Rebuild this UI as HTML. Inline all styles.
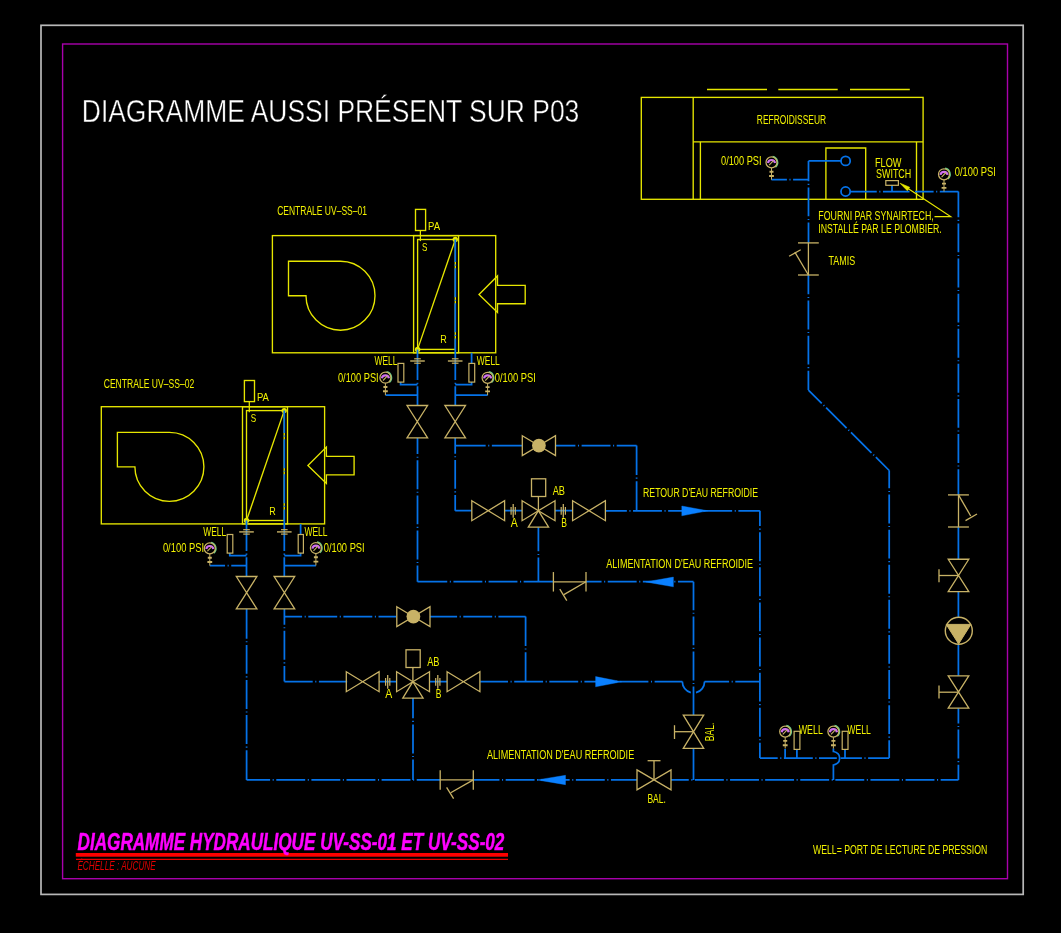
<!DOCTYPE html>
<html><head><meta charset="utf-8"><style>
html,body{margin:0;padding:0;background:#000;width:1061px;height:933px;overflow:hidden}
svg{display:block;will-change:transform}
text{font-family:"Liberation Sans",sans-serif}
</style></head><body>
<svg width="1061" height="933" viewBox="0 0 1061 933">
<rect width="1061" height="933" fill="#000"/>
<rect x="41" y="25.3" width="982.2" height="869.1" stroke="#b8b8b8" stroke-width="1.7" fill="none"/>
<rect x="62.6" y="44" width="944.9" height="834.7" stroke="#a800ac" stroke-width="1.4" fill="none"/>
<rect x="641.3" y="97.4" width="281.8" height="101.9" stroke="#e6e600" stroke-width="1.35" fill="none"/>
<line x1="693.2" y1="97.4" x2="693.2" y2="199.3" stroke="#e6e600" stroke-width="1.35" />
<line x1="693.2" y1="141.8" x2="923.1" y2="141.8" stroke="#e6e600" stroke-width="1.35" />
<line x1="700.4" y1="141.8" x2="700.4" y2="199.3" stroke="#e6e600" stroke-width="1.35" />
<line x1="916.5" y1="141.8" x2="916.5" y2="199.3" stroke="#e6e600" stroke-width="1.35" />
<polyline points="825.9,199.3 825.9,148 865.7,148 865.7,199.3" stroke="#e6e600" stroke-width="1.35" fill="none" />
<line x1="707" y1="89.5" x2="767" y2="89.5" stroke="#e6e600" stroke-width="1.35" />
<line x1="778.3" y1="89.5" x2="837.7" y2="89.5" stroke="#e6e600" stroke-width="1.35" />
<line x1="850" y1="89.5" x2="909.8" y2="89.5" stroke="#e6e600" stroke-width="1.35" />
<rect x="272.4" y="235.6" width="223.3" height="117.2" stroke="#e6e600" stroke-width="1.35" fill="none"/>
<rect x="413.6" y="235.6" width="45" height="117.2" stroke="#e6e600" stroke-width="1.35" fill="none"/>
<rect x="417.6" y="239.5" width="37.7" height="109.9" stroke="#e6e600" stroke-width="1.35" fill="none"/>
<line x1="417.6" y1="349.4" x2="455.3" y2="239.5" stroke="#e6e600" stroke-width="1.35" />
<circle cx="417.6" cy="349.4" r="2.7" fill="#e6e600"/>
<circle cx="455.3" cy="239.5" r="2.7" fill="#e6e600"/>
<path d="M288.5,261.2 H340.5 A34.5,34.5 0 1 1 306,295.7 H288.5 Z" stroke="#e6e600" stroke-width="1.35" fill="none" />
<polygon points="479,294.5 497.5,276 497.5,285.3 525.2,285.3 525.2,303.7 497.5,303.7 497.5,312.4" stroke="#e6e600" stroke-width="1.35" fill="none" />
<rect x="415.5" y="209.4" width="10.1" height="21.1" stroke="#e6e600" stroke-width="1.35" fill="none"/>
<line x1="420.4" y1="230.5" x2="420.4" y2="241.1" stroke="#e6e600" stroke-width="1.25" />
<rect x="101.3" y="406.7" width="223.3" height="117.2" stroke="#e6e600" stroke-width="1.35" fill="none"/>
<rect x="242.5" y="406.7" width="45" height="117.2" stroke="#e6e600" stroke-width="1.35" fill="none"/>
<rect x="246.5" y="410.6" width="37.7" height="109.9" stroke="#e6e600" stroke-width="1.35" fill="none"/>
<line x1="246.5" y1="520.5" x2="284.2" y2="410.6" stroke="#e6e600" stroke-width="1.35" />
<circle cx="246.5" cy="520.5" r="2.7" fill="#e6e600"/>
<circle cx="284.2" cy="410.6" r="2.7" fill="#e6e600"/>
<path d="M117.4,432.3 H169.4 A34.5,34.5 0 1 1 134.9,466.8 H117.4 Z" stroke="#e6e600" stroke-width="1.35" fill="none" />
<polygon points="307.9,465.6 326.4,447.1 326.4,456.4 354.1,456.4 354.1,474.8 326.4,474.8 326.4,483.5" stroke="#e6e600" stroke-width="1.35" fill="none" />
<rect x="244.4" y="380.5" width="10.1" height="21.1" stroke="#e6e600" stroke-width="1.35" fill="none"/>
<line x1="249.3" y1="401.6" x2="249.3" y2="412.2" stroke="#e6e600" stroke-width="1.25" />
<rect x="75.8" y="853" width="432.2" height="3.7" fill="#ff0000"/>
<line x1="76" y1="859.4" x2="508" y2="859.4" stroke="#e80000" stroke-width="1.1" />
<path d="M892,185.3L892,191.5M771.5,179.7L786.9,179.7M789.45,179.7L790.55,179.7M793.1,179.7L808.5,179.7M841,160.9L808.5,160.9M808.5,160.9L808.5,181.25M808.5,183.8L808.5,184.9M808.5,187.45L808.5,216.35M808.5,218.9L808.5,220M808.5,222.55L808.5,242.9M808.4,275L808.4,294.35M808.4,296.9L808.4,298M808.4,300.55L808.4,329.45M808.4,332L808.4,333.1M808.4,335.65L808.4,364.55M808.4,367.1L808.4,368.2M808.4,370.75L808.4,390.1M808.4,390.1L821.72,403.36M823.53,405.15L824.31,405.93M826.12,407.73L846.6,428.11M848.41,429.91L849.19,430.69M851,432.49L871.48,452.87M873.29,454.67L874.07,455.45M875.88,457.24L889.2,470.5M889.2,470.5L889.2,488.35M889.2,490.9L889.2,492M889.2,494.55L889.2,523.45M889.2,526L889.2,527.1M889.2,529.65L889.2,558.55M889.2,561.1L889.2,562.2M889.2,564.75L889.2,593.65M889.2,596.2L889.2,597.3M889.2,599.85L889.2,628.75M889.2,631.3L889.2,632.4M889.2,634.95L889.2,663.85M889.2,666.4L889.2,667.5M889.2,670.05L889.2,698.95M889.2,701.5L889.2,702.6M889.2,705.15L889.2,734.05M889.2,736.6L889.2,737.7M889.2,740.25L889.2,758.1M889.2,758.1L868.1,758.1M865.55,758.1L864.45,758.1M861.9,758.1L840.8,758.1M836.8,758.1L819,758.1M816.45,758.1L815.35,758.1M812.8,758.1L783.9,758.1M781.35,758.1L780.25,758.1M777.7,758.1L759.9,758.1M759.9,758.1L759.9,742.85M759.9,740.3L759.9,739.2M759.9,736.65L759.9,707.75M759.9,705.2L759.9,704.1M759.9,701.55L759.9,672.65M759.9,670.1L759.9,669M759.9,666.45L759.9,637.55M759.9,635L759.9,633.9M759.9,631.35L759.9,602.45M759.9,599.9L759.9,598.8M759.9,596.25L759.9,567.35M759.9,564.8L759.9,563.7M759.9,561.15L759.9,532.25M759.9,529.7L759.9,528.6M759.9,526.05L759.9,510.8M759.9,510.8L738.35,510.8M735.8,510.8L734.7,510.8M732.15,510.8L703.25,510.8M700.7,510.8L699.6,510.8M697.05,510.8L668.15,510.8M665.6,510.8L664.5,510.8M661.95,510.8L633.05,510.8M630.5,510.8L629.4,510.8M626.85,510.8L605.3,510.8M850.2,191.5L876.75,191.5M879.3,191.5L880.4,191.5M882.95,191.5L909.5,191.5M915,191.5L933.6,191.5M936.15,191.5L937.25,191.5M939.8,191.5L958.4,191.5M958.4,191.5L958.4,217.25M958.4,219.8L958.4,220.9M958.4,223.45L958.4,252.35M958.4,254.9L958.4,256M958.4,258.55L958.4,287.45M958.4,290L958.4,291.1M958.4,293.65L958.4,322.55M958.4,325.1L958.4,326.2M958.4,328.75L958.4,357.65M958.4,360.2L958.4,361.3M958.4,363.85L958.4,392.75M958.4,395.3L958.4,396.4M958.4,398.95L958.4,427.85M958.4,430.4L958.4,431.5M958.4,434.05L958.4,462.95M958.4,465.5L958.4,466.6M958.4,469.15L958.4,494.9M958.4,527L958.4,559.3M958.4,591.6L958.4,617.3M958.4,644.3L958.4,675.8M958.4,708.2L958.4,723.4M958.4,725.95L958.4,727.05M958.4,729.6L958.4,758.5M958.4,761.05L958.4,762.15M958.4,764.7L958.4,779.9M958.4,779.9L940.65,779.9M938.1,779.9L937,779.9M934.45,779.9L905.55,779.9M903,779.9L901.9,779.9M899.35,779.9L870.45,779.9M867.9,779.9L866.8,779.9M864.25,779.9L835.35,779.9M832.8,779.9L831.7,779.9M829.15,779.9L800.25,779.9M797.7,779.9L796.6,779.9M794.05,779.9L765.15,779.9M762.6,779.9L761.5,779.9M758.95,779.9L730.05,779.9M727.5,779.9L726.4,779.9M723.85,779.9L694.95,779.9M692.4,779.9L691.3,779.9M688.75,779.9L671,779.9M637.1,779.9L610.95,779.9M608.4,779.9L607.3,779.9M604.75,779.9L575.85,779.9M573.3,779.9L572.2,779.9M569.65,779.9L540.75,779.9M538.2,779.9L537.1,779.9M534.55,779.9L505.65,779.9M503.1,779.9L502,779.9M499.45,779.9L473.3,779.9M440.2,779.9L416.7,779.9M414.15,779.9L413.05,779.9M410.5,779.9L381.6,779.9M379.05,779.9L377.95,779.9M375.4,779.9L346.5,779.9M343.95,779.9L342.85,779.9M340.3,779.9L311.4,779.9M308.85,779.9L307.75,779.9M305.2,779.9L276.3,779.9M273.75,779.9L272.65,779.9M270.1,779.9L246.6,779.9M246.6,779.9L246.6,750.2M246.6,747.65L246.6,746.55M246.6,744L246.6,715.1M246.6,712.55L246.6,711.45M246.6,708.9L246.6,680M246.6,677.45L246.6,676.35M246.6,673.8L246.6,644.9M246.6,642.35L246.6,641.25M246.6,638.7L246.6,609M785.1,749L785.1,758.1M796.9,749.4L796.9,758.1M845,749.4L845,758.1M417.5,349.4L417.5,361M417.5,361L417.5,380.1M417.5,382.65L417.5,383.75M417.5,386.3L417.5,405.4M417.5,438L417.5,454.1M417.5,456.65L417.5,457.75M417.5,460.3L417.5,489.2M417.5,491.75L417.5,492.85M417.5,495.4L417.5,524.3M417.5,526.85L417.5,527.95M417.5,530.5L417.5,559.4M417.5,561.95L417.5,563.05M417.5,565.6L417.5,581.7M417.5,581.7L447.25,581.7M449.8,581.7L450.9,581.7M453.45,581.7L482.35,581.7M484.9,581.7L486,581.7M488.55,581.7L517.45,581.7M520,581.7L521.1,581.7M523.65,581.7L553.4,581.7M586,581.7L601.55,581.7M604.1,581.7L605.2,581.7M607.75,581.7L636.65,581.7M639.2,581.7L640.3,581.7M642.85,581.7L671.75,581.7M674.3,581.7L675.4,581.7M677.95,581.7L693.5,581.7M693.5,581.7L693.5,610.2M693.5,612.75L693.5,613.85M693.5,616.4L693.5,645.3M693.5,647.85L693.5,648.95M693.5,651.5L693.5,680.4M693.5,682.95L693.5,684.05M693.5,686.6L693.5,715.1M693.5,748.3L693.5,779.9M455.3,239.5L455.3,262.05M455.3,264.6L455.3,265.7M455.3,268.25L455.3,297.15M455.3,299.7L455.3,300.8M455.3,303.35L455.3,332.25M455.3,334.8L455.3,335.9M455.3,338.45L455.3,361M455.3,361L455.3,380.1M455.3,382.65L455.3,383.75M455.3,386.3L455.3,405.4M455.2,438L455.2,453.7M455.2,456.25L455.2,457.35M455.2,459.9L455.2,488.8M455.2,491.35L455.2,492.45M455.2,495L455.2,510.7M455.2,510.7L471.8,510.7M455.2,445.5L485.65,445.5M488.2,445.5L489.3,445.5M491.85,445.5L522.3,445.5M555.5,445.5L575.4,445.5M577.95,445.5L579.05,445.5M581.6,445.5L610.5,445.5M613.05,445.5L614.15,445.5M616.7,445.5L636.6,445.5M636.6,445.5L636.6,475.05M636.6,477.6L636.6,478.7M636.6,481.25L636.6,510.8M504.6,510.7L522.1,510.7M555,510.7L572.6,510.7M538.4,527.2L538.4,551.35M538.4,553.9L538.4,555M538.4,557.55L538.4,581.7M400.6,382.1L400.6,384.6L417.5,384.6M385.6,395.2L417.5,395.2M471.6,352.8L471.6,363.4M471.6,382.1L471.6,384.6L455.2,384.6M487.6,395.2L455.2,395.2M246.5,520.5L246.5,531.9M246.5,531.9L246.5,551.05M246.5,553.6L246.5,554.7M246.5,557.25L246.5,576.4M284.3,410.6L284.3,433.05M284.3,435.6L284.3,436.7M284.3,439.25L284.3,468.15M284.3,470.7L284.3,471.8M284.3,474.35L284.3,503.25M284.3,505.8L284.3,506.9M284.3,509.45L284.3,531.9M284.3,531.9L284.3,551.05M284.3,553.6L284.3,554.7M284.3,557.25L284.3,576.4M284.4,609L284.4,624.65M284.4,627.2L284.4,628.3M284.4,630.85L284.4,659.75M284.4,662.3L284.4,663.4M284.4,665.95L284.4,681.6M284.4,681.6L312.7,681.6M315.25,681.6L316.35,681.6M318.9,681.6L347.2,681.6M284.4,616.5L302.1,616.5M304.65,616.5L305.75,616.5M308.3,616.5L337.2,616.5M339.75,616.5L340.85,616.5M343.4,616.5L372.3,616.5M374.85,616.5L375.95,616.5M378.5,616.5L396.2,616.5M429.9,616.5L457.1,616.5M459.65,616.5L460.75,616.5M463.3,616.5L492.2,616.5M494.75,616.5L495.85,616.5M498.4,616.5L525.6,616.5M525.6,616.5L525.6,645.95M525.6,648.5L525.6,649.6M525.6,652.15L525.6,681.6M379.1,681.7L396.6,681.7M429.5,681.7L447.1,681.7M480.2,681.6L508,681.6M510.55,681.6L511.65,681.6M514.2,681.6L543.1,681.6M545.65,681.6L546.75,681.6M549.3,681.6L578.2,681.6M580.75,681.6L581.85,681.6M584.4,681.6L613.3,681.6M615.85,681.6L616.95,681.6M619.5,681.6L648.4,681.6M650.95,681.6L652.05,681.6M654.6,681.6L682.4,681.6M704.5,681.6L729.1,681.6M731.65,681.6L732.75,681.6M735.3,681.6L759.9,681.6M413,698L413,718.3M413,720.85L413,721.95M413,724.5L413,753.4M413,755.95L413,757.05M413,759.6L413,779.9M229.8,553.1L229.8,555.7L246.5,555.7M209.8,565.6L225.05,565.6M227.6,565.6L228.7,565.6M231.25,565.6L246.5,565.6M300.6,523.9L300.6,534.5M300.6,553.1L300.6,555.6L284.3,555.6M315.9,565.5L284.3,565.5M682.4,681.6A11,11 0 0 0 690.8,692.6M696,692.6A11,11 0 0 0 704.5,681.6M833.4,748.5V751.5Q839.8,753 839.6,758.1Q839.8,763.5 833.4,765V779.9" stroke="#0572e8" stroke-width="1.75" fill="none" stroke-linecap="butt" stroke-linejoin="miter"/>
<circle cx="845.6" cy="160.9" r="4.6" stroke="#0572e8" stroke-width="1.75" fill="none"/>
<circle cx="845.6" cy="191.5" r="4.6" stroke="#0572e8" stroke-width="1.75" fill="none"/>
<polygon points="681.8,506 707.8,510.8 681.8,515.8" stroke="#0a80ff" stroke-width="0.4" fill="#0a80ff" />
<polygon points="645.7,581.9 673.4,577.1 673.4,586.8" stroke="#0a80ff" stroke-width="0.4" fill="#0a80ff" />
<polygon points="595.6,676.6 621.9,681.7 595.6,686.8" stroke="#0a80ff" stroke-width="0.4" fill="#0a80ff" />
<polygon points="537.2,779.9 565.5,775.3 565.5,784.7" stroke="#0a80ff" stroke-width="0.4" fill="#0a80ff" />
<text x="81.8" y="122.3" font-size="30.8" fill="#ffffff" font-weight="normal" font-style="normal" textLength="497.5" lengthAdjust="spacingAndGlyphs" stroke="#000" stroke-width="0.4">DIAGRAMME AUSSI PRÉSENT SUR P03</text>
<text x="756.8" y="123.5" font-size="12" fill="#f2f200" font-weight="normal" font-style="normal" textLength="69.3" lengthAdjust="spacingAndGlyphs" >REFROIDISSEUR</text>
<text x="721" y="164.5" font-size="12" fill="#f2f200" font-weight="normal" font-style="normal" textLength="40.6" lengthAdjust="spacingAndGlyphs" >0/100 PSI</text>
<text x="875" y="166.7" font-size="12" fill="#f2f200" font-weight="normal" font-style="normal" textLength="26.5" lengthAdjust="spacingAndGlyphs" >FLOW</text>
<text x="876" y="177.5" font-size="12" fill="#f2f200" font-weight="normal" font-style="normal" textLength="35.3" lengthAdjust="spacingAndGlyphs" >SWITCH</text>
<text x="954.8" y="176.4" font-size="12" fill="#f2f200" font-weight="normal" font-style="normal" textLength="41" lengthAdjust="spacingAndGlyphs" >0/100 PSI</text>
<text x="818.3" y="220.1" font-size="12" fill="#f2f200" font-weight="normal" font-style="normal" textLength="115.5" lengthAdjust="spacingAndGlyphs" >FOURNI PAR SYNAIRTECH,</text>
<text x="818.3" y="232.6" font-size="12" fill="#f2f200" font-weight="normal" font-style="normal" textLength="123.4" lengthAdjust="spacingAndGlyphs" >INSTALLÉ PAR LE PLOMBIER.</text>
<polyline points="934.5,216.6 950.6,216.6 905,186.6" stroke="#e6e600" stroke-width="1.25" fill="none" />
<polygon points="900,183.2 909.7,187.3 907.3,190.7" stroke="#e6e600" stroke-width="0.6" fill="#e6e600" />
<rect x="885.8" y="180.6" width="12.6" height="4.7" stroke="#c8b266" stroke-width="1.2" fill="none"/>
<line x1="798" y1="242.9" x2="818.8" y2="242.9" stroke="#c8b266" stroke-width="1.3" />
<line x1="798" y1="275" x2="818.8" y2="275" stroke="#c8b266" stroke-width="1.3" />
<line x1="808.4" y1="242.9" x2="808.4" y2="275" stroke="#c8b266" stroke-width="1.3" />
<line x1="808.4" y1="275" x2="794.9" y2="252.2" stroke="#c8b266" stroke-width="1.3" />
<line x1="789.1" y1="256.3" x2="800.7" y2="249.7" stroke="#c8b266" stroke-width="1.3" />
<text x="828.5" y="265.1" font-size="12" fill="#f2f200" font-weight="normal" font-style="normal" textLength="26.6" lengthAdjust="spacingAndGlyphs" >TAMIS</text>
<line x1="948" y1="494.9" x2="968.9" y2="494.9" stroke="#c8b266" stroke-width="1.3" />
<line x1="948" y1="527" x2="968.9" y2="527" stroke="#c8b266" stroke-width="1.3" />
<line x1="958.5" y1="494.9" x2="958.5" y2="527" stroke="#c8b266" stroke-width="1.3" />
<line x1="958.5" y1="494.9" x2="970.7" y2="516" stroke="#c8b266" stroke-width="1.3" />
<line x1="965.5" y1="520.6" x2="977" y2="514" stroke="#c8b266" stroke-width="1.3" />
<polygon points="948.2,559.25 968.8,559.25 948.2,591.65 968.8,591.65" stroke="#c8b266" stroke-width="1.3" fill="none" />
<line x1="958.5" y1="575.5" x2="939" y2="575.5" stroke="#c8b266" stroke-width="1.3" />
<line x1="939" y1="569.2" x2="939" y2="582.3" stroke="#c8b266" stroke-width="1.3" />
<circle cx="958.8" cy="630.8" r="13.5" stroke="#c8b266" stroke-width="1.4" fill="none"/>
<polygon points="946.2,624.4 970.9,624.4 958.6,643.9" stroke="#c8b266" stroke-width="1" fill="#c8b266" />
<polygon points="948.2,675.8 968.8,675.8 948.2,708.2 968.8,708.2" stroke="#c8b266" stroke-width="1.3" fill="none" />
<line x1="958.5" y1="692.2" x2="939" y2="692.2" stroke="#c8b266" stroke-width="1.3" />
<line x1="939" y1="685.6" x2="939" y2="698.5" stroke="#c8b266" stroke-width="1.3" />
<rect x="794.1" y="731.3" width="5.8" height="18.1" stroke="#c8b266" stroke-width="1.2" fill="none"/>
<rect x="842.2" y="731.3" width="5.8" height="18.1" stroke="#c8b266" stroke-width="1.2" fill="none"/>
<text x="798.8" y="733.5" font-size="12" fill="#f2f200" font-weight="normal" font-style="normal" textLength="24" lengthAdjust="spacingAndGlyphs" >WELL</text>
<text x="847.3" y="733.5" font-size="12" fill="#f2f200" font-weight="normal" font-style="normal" textLength="23.6" lengthAdjust="spacingAndGlyphs" >WELL</text>
<text x="813" y="853.5" font-size="12" fill="#f2f200" font-weight="normal" font-style="normal" textLength="174.3" lengthAdjust="spacingAndGlyphs" >WELL= PORT DE LECTURE DE PRESSION</text>
<text x="428" y="229.9" font-size="11.5" fill="#f2f200" font-weight="normal" font-style="normal" textLength="12" lengthAdjust="spacingAndGlyphs" >PA</text>
<text x="421.9" y="250.6" font-size="11.5" fill="#f2f200" font-weight="normal" font-style="normal" textLength="5.4" lengthAdjust="spacingAndGlyphs" >S</text>
<text x="440.3" y="343.4" font-size="11.5" fill="#f2f200" font-weight="normal" font-style="normal" textLength="6.5" lengthAdjust="spacingAndGlyphs" >R</text>
<text x="277.2" y="214.9" font-size="12" fill="#f2f200" font-weight="normal" font-style="normal" textLength="89.7" lengthAdjust="spacingAndGlyphs" >CENTRALE UV–SS–01</text>
<text x="256.9" y="401" font-size="11.5" fill="#f2f200" font-weight="normal" font-style="normal" textLength="12" lengthAdjust="spacingAndGlyphs" >PA</text>
<text x="250.8" y="421.7" font-size="11.5" fill="#f2f200" font-weight="normal" font-style="normal" textLength="5.4" lengthAdjust="spacingAndGlyphs" >S</text>
<text x="269.2" y="514.5" font-size="11.5" fill="#f2f200" font-weight="normal" font-style="normal" textLength="6.5" lengthAdjust="spacingAndGlyphs" >R</text>
<text x="103.7" y="388.3" font-size="12" fill="#f2f200" font-weight="normal" font-style="normal" textLength="90.5" lengthAdjust="spacingAndGlyphs" >CENTRALE UV–SS–02</text>
<line x1="410.2" y1="361" x2="424.8" y2="361" stroke="#c8b266" stroke-width="1.4" />
<line x1="414.2" y1="358.8" x2="420.8" y2="358.8" stroke="#c8b266" stroke-width="1.2" />
<line x1="414.2" y1="363.2" x2="420.8" y2="363.2" stroke="#c8b266" stroke-width="1.2" />
<line x1="447.9" y1="361" x2="462.5" y2="361" stroke="#c8b266" stroke-width="1.4" />
<line x1="451.9" y1="358.8" x2="458.5" y2="358.8" stroke="#c8b266" stroke-width="1.2" />
<line x1="451.9" y1="363.2" x2="458.5" y2="363.2" stroke="#c8b266" stroke-width="1.2" />
<rect x="398" y="363.4" width="5.8" height="18.7" stroke="#c8b266" stroke-width="1.2" fill="none"/>
<rect x="468.9" y="363.4" width="5.8" height="18.7" stroke="#c8b266" stroke-width="1.2" fill="none"/>
<text x="374.6" y="365.4" font-size="12" fill="#f2f200" font-weight="normal" font-style="normal" textLength="22.8" lengthAdjust="spacingAndGlyphs" >WELL</text>
<text x="337.9" y="381.6" font-size="12" fill="#f2f200" font-weight="normal" font-style="normal" textLength="40.8" lengthAdjust="spacingAndGlyphs" >0/100 PSI</text>
<text x="476.8" y="365.4" font-size="12" fill="#f2f200" font-weight="normal" font-style="normal" textLength="23" lengthAdjust="spacingAndGlyphs" >WELL</text>
<text x="494.8" y="381.6" font-size="12" fill="#f2f200" font-weight="normal" font-style="normal" textLength="41" lengthAdjust="spacingAndGlyphs" >0/100 PSI</text>
<polygon points="407,405.5 427.6,405.5 407,437.9 427.6,437.9" stroke="#c8b266" stroke-width="1.3" fill="none" />
<polygon points="444.9,405.5 465.5,405.5 444.9,437.9 465.5,437.9" stroke="#c8b266" stroke-width="1.3" fill="none" />
<line x1="239.2" y1="531.9" x2="253.8" y2="531.9" stroke="#c8b266" stroke-width="1.4" />
<line x1="243.2" y1="529.7" x2="249.8" y2="529.7" stroke="#c8b266" stroke-width="1.2" />
<line x1="243.2" y1="534.1" x2="249.8" y2="534.1" stroke="#c8b266" stroke-width="1.2" />
<line x1="277" y1="531.9" x2="291.6" y2="531.9" stroke="#c8b266" stroke-width="1.4" />
<line x1="281" y1="529.7" x2="287.6" y2="529.7" stroke="#c8b266" stroke-width="1.2" />
<line x1="281" y1="534.1" x2="287.6" y2="534.1" stroke="#c8b266" stroke-width="1.2" />
<rect x="227.2" y="534.5" width="5.6" height="18.6" stroke="#c8b266" stroke-width="1.2" fill="none"/>
<rect x="298.2" y="534.5" width="5.2" height="18.6" stroke="#c8b266" stroke-width="1.2" fill="none"/>
<text x="203.2" y="536.3" font-size="12" fill="#f2f200" font-weight="normal" font-style="normal" textLength="23" lengthAdjust="spacingAndGlyphs" >WELL</text>
<text x="162.9" y="552.1" font-size="12" fill="#f2f200" font-weight="normal" font-style="normal" textLength="41.2" lengthAdjust="spacingAndGlyphs" >0/100 PSI</text>
<text x="304.5" y="536.4" font-size="12" fill="#f2f200" font-weight="normal" font-style="normal" textLength="23" lengthAdjust="spacingAndGlyphs" >WELL</text>
<text x="323.7" y="552.3" font-size="12" fill="#f2f200" font-weight="normal" font-style="normal" textLength="41" lengthAdjust="spacingAndGlyphs" >0/100 PSI</text>
<polygon points="236.3,576.5 256.9,576.5 236.3,608.9 256.9,608.9" stroke="#c8b266" stroke-width="1.3" fill="none" />
<polygon points="274.1,576.5 294.7,576.5 274.1,608.9 294.7,608.9" stroke="#c8b266" stroke-width="1.3" fill="none" />
<polygon points="522.3,435.7 555.5,455.5 555.5,435.7 522.3,455.5" stroke="#c8b266" stroke-width="1.3" fill="none" />
<circle cx="538.9" cy="445.6" r="6.9" fill="#c8b266"/>
<polygon points="471.8,500.7 504.6,520.7 504.6,500.7 471.8,520.7" stroke="#c8b266" stroke-width="1.3" fill="none" />
<line x1="513.2" y1="504.1" x2="513.2" y2="517.7" stroke="#c8b266" stroke-width="1.3" />
<line x1="511.1" y1="507.1" x2="511.1" y2="514.7" stroke="#c8b266" stroke-width="1.2" />
<line x1="515.3" y1="507.1" x2="515.3" y2="514.7" stroke="#c8b266" stroke-width="1.2" />
<polygon points="522.1,500.7 538.4,510.7 522.1,520.7" stroke="#c8b266" stroke-width="1.3" fill="none" />
<polygon points="555,500.7 538.4,510.7 555,520.7" stroke="#c8b266" stroke-width="1.3" fill="none" />
<polygon points="538.4,510.7 528.3,527.2 548.6,527.2" stroke="#c8b266" stroke-width="1.3" fill="none" />
<line x1="538.4" y1="510.7" x2="538.4" y2="496.5" stroke="#c8b266" stroke-width="1.3" />
<rect x="531.5" y="478.8" width="14.2" height="17.7" stroke="#c8b266" stroke-width="1.3" fill="none"/>
<line x1="563.3" y1="504.1" x2="563.3" y2="517.7" stroke="#c8b266" stroke-width="1.3" />
<line x1="561.2" y1="507.1" x2="561.2" y2="514.7" stroke="#c8b266" stroke-width="1.2" />
<line x1="565.4" y1="507.1" x2="565.4" y2="514.7" stroke="#c8b266" stroke-width="1.2" />
<polygon points="572.6,500.7 605.4,520.7 605.4,500.7 572.6,520.7" stroke="#c8b266" stroke-width="1.3" fill="none" />
<text x="552.7" y="495.1" font-size="12" fill="#f2f200" font-weight="normal" font-style="normal" textLength="12.3" lengthAdjust="spacingAndGlyphs" >AB</text>
<text x="510.7" y="527.4" font-size="12" fill="#f2f200" font-weight="normal" font-style="normal" textLength="7" lengthAdjust="spacingAndGlyphs" >A</text>
<text x="561.2" y="527.4" font-size="12" fill="#f2f200" font-weight="normal" font-style="normal" textLength="5.7" lengthAdjust="spacingAndGlyphs" >B</text>
<polygon points="396.8,606.7 430,626.5 430,606.7 396.8,626.5" stroke="#c8b266" stroke-width="1.3" fill="none" />
<circle cx="413.4" cy="616.6" r="6.9" fill="#c8b266"/>
<polygon points="346.3,671.7 379.1,691.7 379.1,671.7 346.3,691.7" stroke="#c8b266" stroke-width="1.3" fill="none" />
<line x1="387.7" y1="675.1" x2="387.7" y2="688.7" stroke="#c8b266" stroke-width="1.3" />
<line x1="385.6" y1="678.1" x2="385.6" y2="685.7" stroke="#c8b266" stroke-width="1.2" />
<line x1="389.8" y1="678.1" x2="389.8" y2="685.7" stroke="#c8b266" stroke-width="1.2" />
<polygon points="396.6,671.7 412.9,681.7 396.6,691.7" stroke="#c8b266" stroke-width="1.3" fill="none" />
<polygon points="429.5,671.7 412.9,681.7 429.5,691.7" stroke="#c8b266" stroke-width="1.3" fill="none" />
<polygon points="412.9,681.7 402.8,698.2 423.1,698.2" stroke="#c8b266" stroke-width="1.3" fill="none" />
<line x1="412.9" y1="681.7" x2="412.9" y2="667.5" stroke="#c8b266" stroke-width="1.3" />
<rect x="406" y="649.8" width="14.2" height="17.7" stroke="#c8b266" stroke-width="1.3" fill="none"/>
<line x1="437.8" y1="675.1" x2="437.8" y2="688.7" stroke="#c8b266" stroke-width="1.3" />
<line x1="435.7" y1="678.1" x2="435.7" y2="685.7" stroke="#c8b266" stroke-width="1.2" />
<line x1="439.9" y1="678.1" x2="439.9" y2="685.7" stroke="#c8b266" stroke-width="1.2" />
<polygon points="447.1,671.7 479.9,691.7 479.9,671.7 447.1,691.7" stroke="#c8b266" stroke-width="1.3" fill="none" />
<text x="427.2" y="666.1" font-size="12" fill="#f2f200" font-weight="normal" font-style="normal" textLength="12.3" lengthAdjust="spacingAndGlyphs" >AB</text>
<text x="385.2" y="698.4" font-size="12" fill="#f2f200" font-weight="normal" font-style="normal" textLength="7" lengthAdjust="spacingAndGlyphs" >A</text>
<text x="435.7" y="698.4" font-size="12" fill="#f2f200" font-weight="normal" font-style="normal" textLength="5.7" lengthAdjust="spacingAndGlyphs" >B</text>
<line x1="553.4" y1="572.05" x2="553.4" y2="591.55" stroke="#c8b266" stroke-width="1.3" />
<line x1="586" y1="572.05" x2="586" y2="591.55" stroke="#c8b266" stroke-width="1.3" />
<line x1="553.4" y1="581.8" x2="586" y2="581.8" stroke="#c8b266" stroke-width="1.3" />
<line x1="586" y1="581.8" x2="563.9" y2="594.6" stroke="#c8b266" stroke-width="1.3" />
<line x1="559.8" y1="589.2" x2="566.8" y2="600.6" stroke="#c8b266" stroke-width="1.3" />
<line x1="440.2" y1="770.15" x2="440.2" y2="789.65" stroke="#c8b266" stroke-width="1.3" />
<line x1="473.3" y1="770.15" x2="473.3" y2="789.65" stroke="#c8b266" stroke-width="1.3" />
<line x1="440.2" y1="779.9" x2="473.3" y2="779.9" stroke="#c8b266" stroke-width="1.3" />
<line x1="473.3" y1="779.9" x2="450.7" y2="792.7" stroke="#c8b266" stroke-width="1.3" />
<line x1="446.6" y1="787.3" x2="453.6" y2="798.7" stroke="#c8b266" stroke-width="1.3" />
<text x="643" y="496.6" font-size="12" fill="#f2f200" font-weight="normal" font-style="normal" textLength="115" lengthAdjust="spacingAndGlyphs" >RETOUR D'EAU REFROIDIE</text>
<text x="606.3" y="568.2" font-size="12" fill="#f2f200" font-weight="normal" font-style="normal" textLength="146.8" lengthAdjust="spacingAndGlyphs" >ALIMENTATION D'EAU REFROIDIE</text>
<text x="487" y="758.8" font-size="12" fill="#f2f200" font-weight="normal" font-style="normal" textLength="147.2" lengthAdjust="spacingAndGlyphs" >ALIMENTATION D'EAU REFROIDIE</text>
<polygon points="637,769.9 671,789.9 671,769.9 637,789.9" stroke="#c8b266" stroke-width="1.3" fill="none" />
<line x1="654" y1="779.9" x2="654" y2="760.7" stroke="#c8b266" stroke-width="1.3" />
<line x1="647.6" y1="760.7" x2="660.5" y2="760.7" stroke="#c8b266" stroke-width="1.3" />
<text x="647.4" y="803.1" font-size="12" fill="#f2f200" font-weight="normal" font-style="normal" textLength="18.4" lengthAdjust="spacingAndGlyphs" >BAL.</text>
<polygon points="683.3,715.1 703.7,715.1 683.3,748.3 703.7,748.3" stroke="#c8b266" stroke-width="1.3" fill="none" />
<line x1="693.5" y1="731.7" x2="674.5" y2="731.7" stroke="#c8b266" stroke-width="1.3" />
<line x1="674.5" y1="725.2" x2="674.5" y2="739" stroke="#c8b266" stroke-width="1.3" />
<text x="0" y="0" font-size="12" fill="#f2f200" font-weight="normal" font-style="normal" textLength="18.6" lengthAdjust="spacingAndGlyphs" transform="translate(714.2,741.2) rotate(-90)">BAL.</text>
<g transform="translate(771.5,162.4)">
<path d="M1.06,-6.01 A6.1,6.1 0 0 1 3.92,4.67" stroke="#66cc88" stroke-width="1.5" fill="none"/>
<circle r="5.5" stroke="#c8b266" stroke-width="1.25" fill="none"/>
<path d="M-3.55,0.6 A3.6,3.6 0 0 1 3.55,0.6" stroke="#d070f0" stroke-width="2.2" fill="none"/>
<line x1="-2.4" y1="2.8" x2="2" y2="-1.8" stroke="#c8b266" stroke-width="1.1"/>
<line x1="0" y1="5.5" x2="0" y2="17.3" stroke="#c8b266" stroke-width="1"/>
<path d="M-2,9.3 h4 M-2.4,13.6 h4.8" stroke="#c8b266" stroke-width="1.9" fill="none"/>
</g>
<g transform="translate(944,174.3)">
<path d="M1.06,-6.01 A6.1,6.1 0 0 1 3.92,4.67" stroke="#66cc88" stroke-width="1.5" fill="none"/>
<circle r="5.5" stroke="#c8b266" stroke-width="1.25" fill="none"/>
<path d="M-3.55,0.6 A3.6,3.6 0 0 1 3.55,0.6" stroke="#d070f0" stroke-width="2.2" fill="none"/>
<line x1="-2.4" y1="2.8" x2="2" y2="-1.8" stroke="#c8b266" stroke-width="1.1"/>
<line x1="0" y1="5.5" x2="0" y2="17.2" stroke="#c8b266" stroke-width="1"/>
<path d="M-2,9.3 h4 M-2.4,13.6 h4.8" stroke="#c8b266" stroke-width="1.9" fill="none"/>
</g>
<g transform="translate(785.2,731.6)">
<path d="M1.06,-6.01 A6.1,6.1 0 0 1 3.92,4.67" stroke="#66cc88" stroke-width="1.5" fill="none"/>
<circle r="5.5" stroke="#c8b266" stroke-width="1.25" fill="none"/>
<path d="M-3.55,0.6 A3.6,3.6 0 0 1 3.55,0.6" stroke="#d070f0" stroke-width="2.2" fill="none"/>
<line x1="-2.4" y1="2.8" x2="2" y2="-1.8" stroke="#c8b266" stroke-width="1.1"/>
<line x1="0" y1="5.5" x2="0" y2="17" stroke="#c8b266" stroke-width="1"/>
<path d="M-2,9.3 h4 M-2.4,13.6 h4.8" stroke="#c8b266" stroke-width="1.9" fill="none"/>
</g>
<g transform="translate(833.4,731.6)">
<path d="M1.06,-6.01 A6.1,6.1 0 0 1 3.92,4.67" stroke="#66cc88" stroke-width="1.5" fill="none"/>
<circle r="5.5" stroke="#c8b266" stroke-width="1.25" fill="none"/>
<path d="M-3.55,0.6 A3.6,3.6 0 0 1 3.55,0.6" stroke="#d070f0" stroke-width="2.2" fill="none"/>
<line x1="-2.4" y1="2.8" x2="2" y2="-1.8" stroke="#c8b266" stroke-width="1.1"/>
<line x1="0" y1="5.5" x2="0" y2="17" stroke="#c8b266" stroke-width="1"/>
<path d="M-2,9.3 h4 M-2.4,13.6 h4.8" stroke="#c8b266" stroke-width="1.9" fill="none"/>
</g>
<g transform="translate(385.4,377.7)">
<path d="M1.06,-6.01 A6.1,6.1 0 0 1 3.92,4.67" stroke="#66cc88" stroke-width="1.5" fill="none"/>
<circle r="5.5" stroke="#c8b266" stroke-width="1.25" fill="none"/>
<path d="M-3.55,0.6 A3.6,3.6 0 0 1 3.55,0.6" stroke="#d070f0" stroke-width="2.2" fill="none"/>
<line x1="-2.4" y1="2.8" x2="2" y2="-1.8" stroke="#c8b266" stroke-width="1.1"/>
<line x1="0" y1="5.5" x2="0" y2="17.5" stroke="#c8b266" stroke-width="1"/>
<path d="M-2,9.3 h4 M-2.4,13.6 h4.8" stroke="#c8b266" stroke-width="1.9" fill="none"/>
</g>
<g transform="translate(487.6,377.8)">
<path d="M1.06,-6.01 A6.1,6.1 0 0 1 3.92,4.67" stroke="#66cc88" stroke-width="1.5" fill="none"/>
<circle r="5.5" stroke="#c8b266" stroke-width="1.25" fill="none"/>
<path d="M-3.55,0.6 A3.6,3.6 0 0 1 3.55,0.6" stroke="#d070f0" stroke-width="2.2" fill="none"/>
<line x1="-2.4" y1="2.8" x2="2" y2="-1.8" stroke="#c8b266" stroke-width="1.1"/>
<line x1="0" y1="5.5" x2="0" y2="17.4" stroke="#c8b266" stroke-width="1"/>
<path d="M-2,9.3 h4 M-2.4,13.6 h4.8" stroke="#c8b266" stroke-width="1.9" fill="none"/>
</g>
<g transform="translate(209.8,548.4)">
<path d="M1.06,-6.01 A6.1,6.1 0 0 1 3.92,4.67" stroke="#66cc88" stroke-width="1.5" fill="none"/>
<circle r="5.5" stroke="#c8b266" stroke-width="1.25" fill="none"/>
<path d="M-3.55,0.6 A3.6,3.6 0 0 1 3.55,0.6" stroke="#d070f0" stroke-width="2.2" fill="none"/>
<line x1="-2.4" y1="2.8" x2="2" y2="-1.8" stroke="#c8b266" stroke-width="1.1"/>
<line x1="0" y1="5.5" x2="0" y2="17.2" stroke="#c8b266" stroke-width="1"/>
<path d="M-2,9.3 h4 M-2.4,13.6 h4.8" stroke="#c8b266" stroke-width="1.9" fill="none"/>
</g>
<g transform="translate(315.9,548)">
<path d="M1.06,-6.01 A6.1,6.1 0 0 1 3.92,4.67" stroke="#66cc88" stroke-width="1.5" fill="none"/>
<circle r="5.5" stroke="#c8b266" stroke-width="1.25" fill="none"/>
<path d="M-3.55,0.6 A3.6,3.6 0 0 1 3.55,0.6" stroke="#d070f0" stroke-width="2.2" fill="none"/>
<line x1="-2.4" y1="2.8" x2="2" y2="-1.8" stroke="#c8b266" stroke-width="1.1"/>
<line x1="0" y1="5.5" x2="0" y2="17.5" stroke="#c8b266" stroke-width="1"/>
<path d="M-2,9.3 h4 M-2.4,13.6 h4.8" stroke="#c8b266" stroke-width="1.9" fill="none"/>
</g>
<text x="77.6" y="850.2" font-size="23" fill="#ff00ff" font-weight="bold" font-style="italic" textLength="426.8" lengthAdjust="spacingAndGlyphs" stroke="#ff00ff" stroke-width="0.5">DIAGRAMME HYDRAULIQUE UV-SS-01 ET UV-SS-02</text>
<text x="77.4" y="870.3" font-size="12" fill="#e00000" font-weight="normal" font-style="italic" textLength="78.3" lengthAdjust="spacingAndGlyphs" >ÉCHELLE : AUCUNE</text>
</svg>
</body></html>
